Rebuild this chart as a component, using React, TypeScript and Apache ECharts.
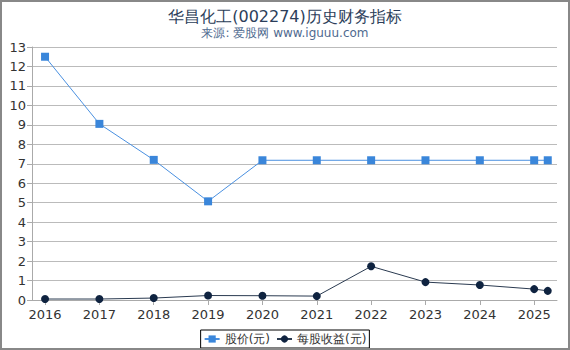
import React, { useEffect, useRef } from "react";
import * as echarts from "echarts";

const years = [2016, 2017, 2018, 2019, 2020, 2021, 2022, 2023, 2024, 2025, 2025.25];
const priceValues = [12.5, 9.05, 7.2, 5.07, 7.18, 7.18, 7.18, 7.18, 7.18, 7.18, 7.18];
const epsValues = [0.05, 0.05, 0.1, 0.23, 0.22, 0.2, 1.73, 0.92, 0.77, 0.56, 0.47];
const titleText = "华昌化工(002274)历史财务指标";
const subText = "来源: 爱股网 www.iguuu.com";
const seriesNames = ["股价(元)", "每股收益(元)"];

export default function App() {
  const ref = useRef<HTMLDivElement>(null);
  useEffect(() => {
    document.body.style.margin = "0";
    if (!ref.current) return;
    const chart = echarts.init(ref.current, undefined, { renderer: "svg" });
    const font = "DejaVu Sans, sans-serif";
    chart.setOption({
      animation: false,
      title: {
        text: titleText,
        subtext: subText,
        left: "center",
        top: 1,
        itemGap: 3,
        textStyle: { fontSize: 16, fontWeight: "normal", color: "#2c3e5a", fontFamily: font },
        subtextStyle: { fontSize: 12, color: "#4f6a8f", fontFamily: font },
      },
      grid: { show: false, left: 30, right: 11, top: 45, bottom: 48, containLabel: false },
      legend: {
        bottom: 0,
        left: "center",
        data: seriesNames,
        borderColor: "#000",
        borderWidth: 1,
        borderRadius: 0,
        padding: [3, 3],
        itemGap: 6,
        itemWidth: 15,
        itemHeight: 9,
        textStyle: { fontSize: 12, color: "#333", fontFamily: font },
      },
      xAxis: {
        type: "value",
        min: 2015.76,
        max: 2025.42,
        splitNumber: 10,
        splitLine: { show: false },
        splitArea: { show: false },
        axisLine: { onZero: false, lineStyle: { color: "#aaa" } },
        axisTick: { show: true, lineStyle: { color: "#aaa" } },
        axisLabel: {
          fontSize: 13,
          color: "#333",
          fontFamily: font,
          showMinLabel: false,
          showMaxLabel: false,
          formatter: (v: number) => (Number.isInteger(v) ? String(v) : ""),
        },
      },
      yAxis: {
        type: "value",
        min: 0,
        max: 13,
        interval: 1,
        axisLine: { show: true, onZero: false, lineStyle: { color: "#aaa" } },
        axisTick: { show: true, lineStyle: { color: "#aaa" } },
        splitLine: { lineStyle: { color: "#bbb" } },
        axisLabel: { fontSize: 13, color: "#333", fontFamily: font, margin: 6 },
      },
      series: [
        {
          name: seriesNames[0],
          type: "line",
          data: years.map((y, i) => [y, priceValues[i]]),
          symbol: "rect",
          symbolSize: 8,
          itemStyle: { color: "#3a86da" },
          lineStyle: { color: "#4a90e0", width: 1 },
        },
        {
          name: seriesNames[1],
          type: "line",
          data: years.map((y, i) => [y, epsValues[i]]),
          symbol: "circle",
          symbolSize: 8,
          itemStyle: { color: "#0f2340" },
          lineStyle: { color: "#2a3a50", width: 1 },
        },
      ],
    });
    return () => chart.dispose();
  }, []);
  return (
    <div
      style={{
        width: 570,
        height: 350,
        boxSizing: "border-box",
        border: "2px solid #888",
      }}
    >
      <div ref={ref} style={{ width: 566, height: 346 }} />
    </div>
  );
}
